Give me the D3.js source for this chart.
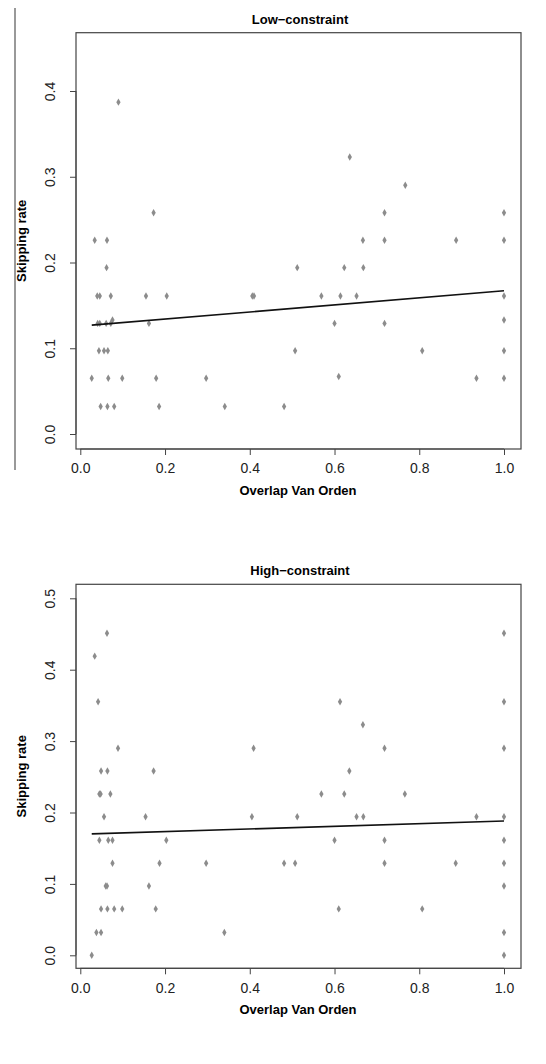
<!DOCTYPE html>
<html><head><meta charset="utf-8">
<script src="https://cdn.jsdelivr.net/npm/d3@7"></script>
<style>body{margin:0;background:#fff}svg{font-family:"Liberation Sans",Arial,sans-serif}</style>
</head><body><svg id="c" width="546" height="1064"></svg>
<script>
const lowX=[.027,.034,.040,.046,.041,.044,.048,.046,.056,.061,.063,.062,.065,.064,.066,.072,.072,.076,.080,.090,.099,.155,.162,.173,.179,.186,.204,.297,.341,.406,.410,.481,.507,.512,.569,.600,.610,.614,.623,.636,.652,.667,.668,.718,.718,.718,.767,.807,.887,.935,1,1,1,1,1,1];
const lowY=[.065,.226,.161,.161,.129,.097,.032,.129,.097,.129,.226,.194,.097,.032,.065,.161,.129,.133,.032,.387,.065,.161,.129,.258,.065,.032,.161,.065,.032,.161,.161,.032,.097,.194,.161,.129,.067,.161,.194,.323,.161,.226,.194,.258,.226,.129,.290,.097,.226,.065,.258,.226,.161,.133,.097,.065];
const highX=[.027,.034,.038,.042,.045,.048,.045,.049,.049,.049,.056,.060,.063,.063,.064,.064,.066,.071,.076,.076,.080,.089,.099,.154,.162,.173,.178,.187,.203,.297,.340,.405,.409,.481,.507,.512,.569,.600,.610,.613,.623,.635,.652,.667,.668,.718,.718,.718,.766,.807,.886,.935,1,1,1,1,1,1,1,1,1];
const highY=[0,.419,.032,.355,.226,.226,.161,.032,.065,.258,.194,.097,.097,.451,.258,.065,.161,.226,.161,.129,.065,.290,.065,.194,.097,.258,.065,.129,.161,.129,.032,.194,.290,.129,.129,.194,.226,.161,.065,.355,.226,.258,.194,.323,.194,.290,.161,.129,.226,.065,.129,.194,.451,.355,.290,.194,.161,.129,.097,.032,0];
const xTicks=[0,.2,.4,.6,.8,1];
const lowYTicks=[0,.1,.2,.3,.4], highYTicks=[0,.1,.2,.3,.4,.5];
const lowFit=[[.027,.127],[1,.167]], highFit=[[.027,.170],[1,.188]];
const svg=d3.select("#c");
svg.append("line").attr("x1",15).attr("x2",15).attr("y1",8).attr("y2",470).attr("stroke","#555").attr("stroke-width",1.2);
function panel(o){
  const g=svg.append("g");
  const x=d3.scaleLinear().domain([0,1]).range([80.3,504]);
  const y=d3.scaleLinear().domain(o.yd).range(o.yr);
  g.append("rect").attr("x",76).attr("y",o.top).attr("width",445).attr("height",o.bot-o.top).attr("fill","none").attr("stroke","#444").attr("stroke-width",1.2);
  const xa=g.append("g").attr("transform",`translate(0,${o.bot})`).call(d3.axisBottom(x).tickValues(xTicks).tickFormat(d3.format(".1f")).tickSize(6).tickSizeOuter(0));
  xa.select(".domain").attr("d",`M${x(0)},0H${x(1)}`).attr("stroke","#444");
  xa.selectAll("text").attr("font-size",14).attr("fill","#222").attr("dy","1.1em");
  const ya=g.append("g").attr("transform","translate(76,0)").call(d3.axisLeft(y).tickValues(o.yt).tickFormat(d3.format(".1f")).tickSize(6).tickSizeOuter(0));
  ya.select(".domain").attr("d",`M0,${y(o.yt[0])}V${y(o.yt[o.yt.length-1])}`).attr("stroke","#444");
  ya.selectAll("text").attr("font-size",14).attr("fill","#222").attr("x",0).attr("y",0).attr("dy",0).attr("text-anchor","middle")
    .attr("transform","translate(-21,0) rotate(-90)");
  g.selectAll(".tick line").attr("stroke","#444");
  g.selectAll("path.pt").data(o.xs.map((v,i)=>[v,o.ys[i]])).join("path").attr("d",d3.symbol(d3.symbolDiamond,16)).attr("transform",d=>`translate(${x(d[0])},${y(d[1])})`).attr("fill","#8c8c8c");
  g.append("path").attr("d",d3.line().x(d=>x(d[0])).y(d=>y(d[1]))(o.fit)).attr("stroke","#111").attr("stroke-width",1.6).attr("fill","none");
  g.append("text").attr("x",300).attr("y",o.top-9).attr("text-anchor","middle").attr("font-weight","bold").attr("font-size",13).text(o.title);
  g.append("text").attr("x",298).attr("y",o.bot+46).attr("text-anchor","middle").attr("font-weight","bold").attr("font-size",13).text("Overlap Van Orden");
  g.append("text").attr("transform",`translate(26,${(o.top+o.bot)/2}) rotate(-90)`).attr("text-anchor","middle").attr("font-weight","bold").attr("font-size",13).text("Skipping rate");
}
panel({title:"Low\u2212constraint",xs:lowX,ys:lowY,yd:[0,.4],yr:[434,91],yt:lowYTicks,top:32.7,bot:449,fit:lowFit});
panel({title:"High\u2212constraint",xs:highX,ys:highY,yd:[0,.5],yr:[955.3,598.3],yt:highYTicks,top:584.3,bot:968.3,fit:highFit});
</script></body></html>
